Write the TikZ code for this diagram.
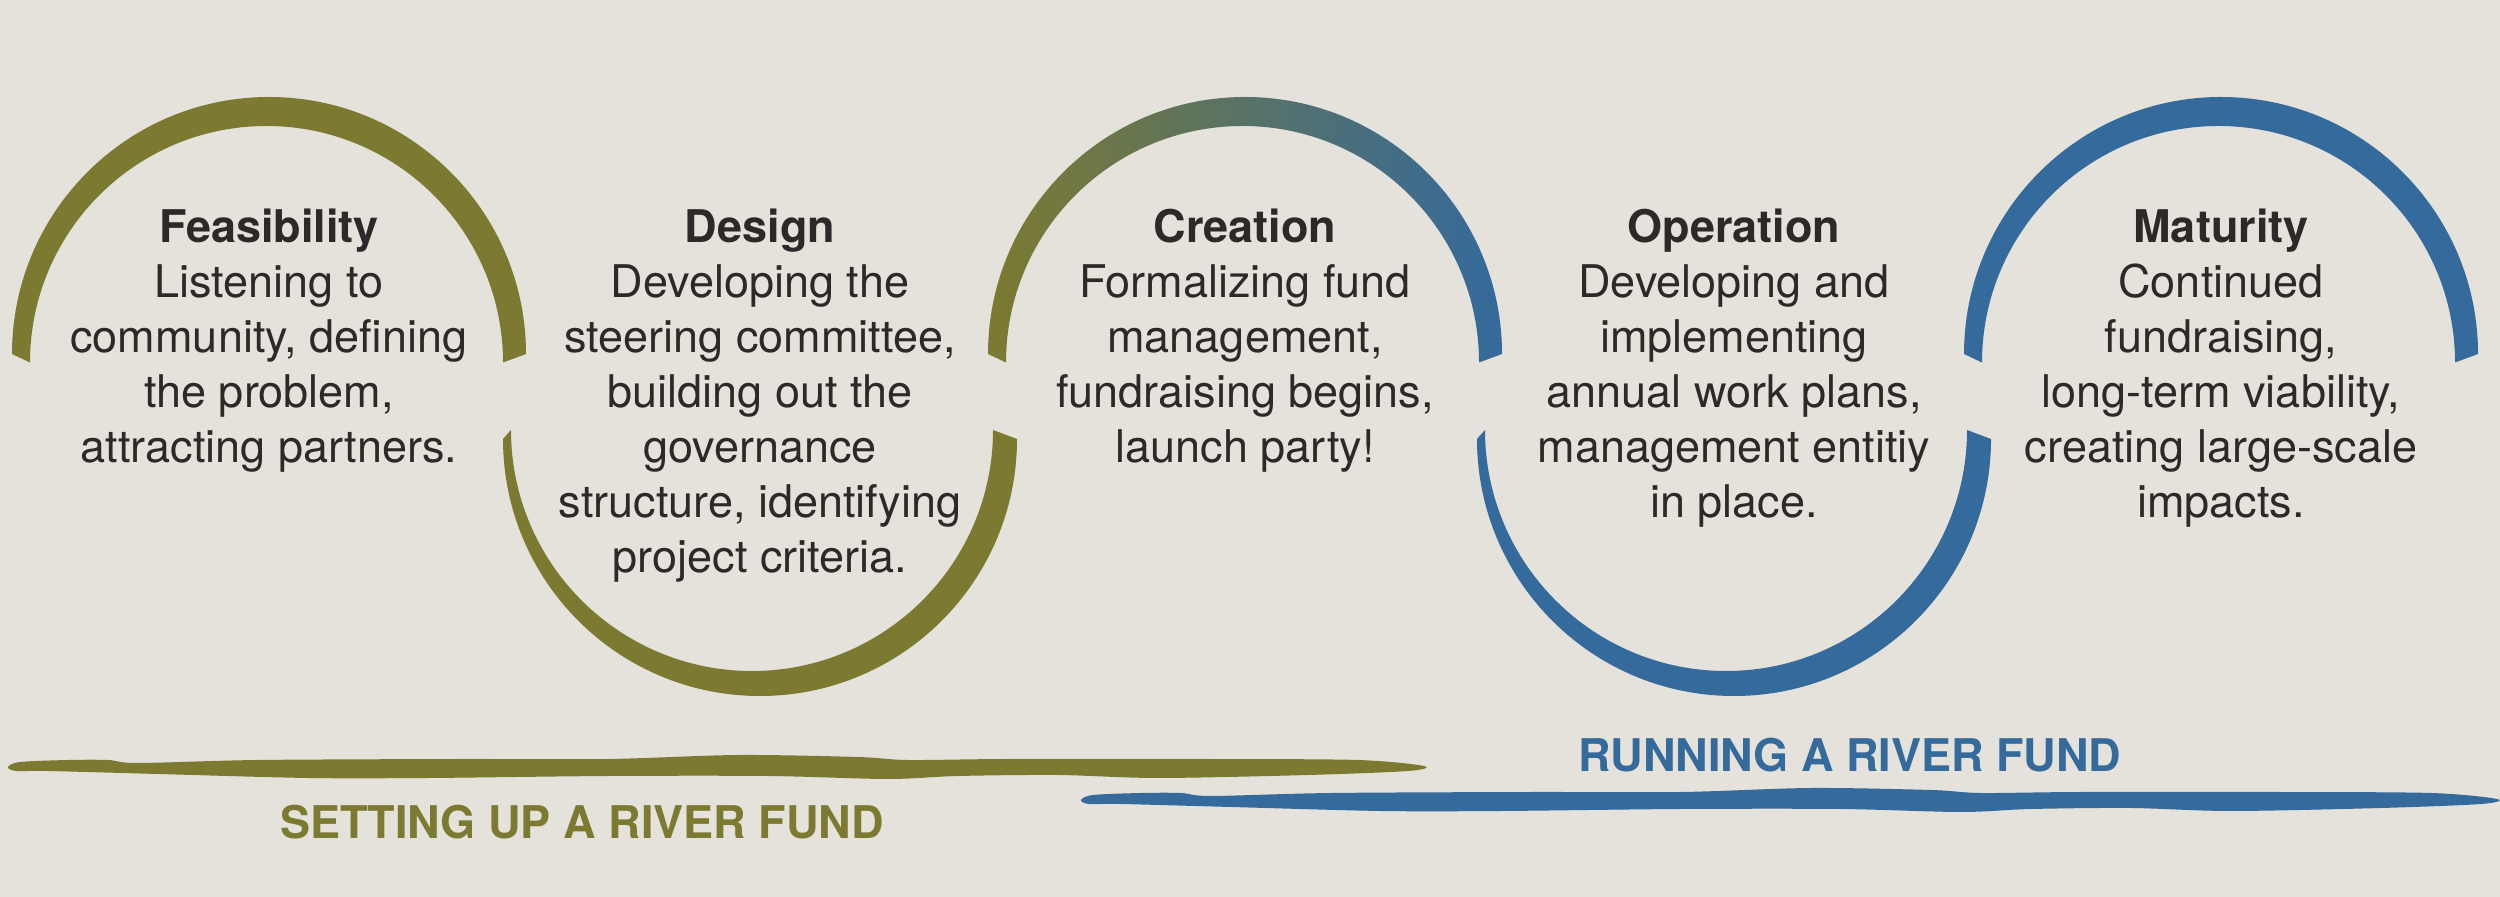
\documentclass[tikz,border=0pt]{standalone}
\usepackage{fontspec}
\setmainfont{TeX Gyre Heros}
\usepackage{tikz}
\usetikzlibrary{positioning}
\definecolor{fundolive}{HTML}{7C7A30}
\definecolor{fundblue}{HTML}{346A9C}
\definecolor{paper}{HTML}{E4E2DA}
\definecolor{ink}{HTML}{2B2A28}

\begin{document}
\begin{tikzpicture}[
    x=0.01cm, y=0.01cm,
    stage/.style={anchor=north, align=center, inner sep=0pt, text=ink, font=\fontsize{12.8}{15.65}\selectfont},
    phase/.style={anchor=base, inner sep=0pt, font=\fontsize{12.8}{15.65}\selectfont\bfseries}
]
    \fill[paper] (0,0) rectangle (2500,897);
    \useasboundingbox (0,0) rectangle (2500,897);

    % upper half rings
    \foreach \cx/\col in {269/fundolive, 2221/fundblue}
        \fill[\col] ({\cx-257},543) arc[start angle=180, end angle=0, radius=257]
            -- ({\cx-2.5+236.5},534.5) arc[start angle=0, end angle=180, radius=236.5] -- cycle;
    \shade[left color=fundolive, right color=fundblue]
        ({1245-257},543) arc[start angle=180, end angle=0, radius=257]
        -- ({1245-2.5+236.5},534.5) arc[start angle=0, end angle=180, radius=236.5] -- cycle;

    % lower half rings
    \foreach \cx/\col in {760/fundolive, 1734/fundblue}
        \fill[\col] ({\cx-257},458) arc[start angle=180, end angle=360, radius=257]
            -- ({\cx-8+241},467) arc[start angle=360, end angle=180, radius=241] -- cycle;

    \node[stage] (feas) at (269,689) {\textbf{Feasibility}\\Listening to\\community, defining\\the problem,\\attracting partners.};
    \node[stage] (design) at (760,689) {\textbf{Design}\\Developing the\\steering committee,\\building out the\\governance\\structure, identifying\\project criteria.};
    \node[stage] (creation) at (1245,689) {\textbf{Creation}\\Formalizing fund\\management,\\fundraising begins,\\launch party!};
    \node[stage] (operation) at (1734,689) {\textbf{Operation}\\Developing and\\implementing\\annual work plans,\\management entitiy\\in place.};
    \node[stage] (maturity) at (2221,689) {\textbf{Maturity}\\Continued\\fundraising,\\long-term viability,\\creating large-scale\\impacts.};

    % brush strokes
    \foreach \bx/\by/\bc in {8/130/fundolive, 1081/97/fundblue}
        \fill[\bc, shift={(\bx,\by)}] plot[smooth cycle] coordinates {
            (0,0) (12,5) (60,7) (100,7) (130,4) (250,7) (450,8) (600,8) (730,12) (850,10)
            (900,7) (1000,8) (1200,8) (1350,7) (1416,1)
            (1400,-4) (1300,-8) (1150,-11) (1050,-8) (950,-9) (880,-12) (760,-9) (600,-9)
            (420,-11) (300,-11) (150,-7) (40,-4) (8,-4)};

    \node[phase, text=fundolive] (setup) at (582,58) {SETTING UP A RIVER FUND};
    \node[phase, text=fundblue] (running) at (1850,125) {RUNNING A RIVER FUND};
\end{tikzpicture}
\end{document}
